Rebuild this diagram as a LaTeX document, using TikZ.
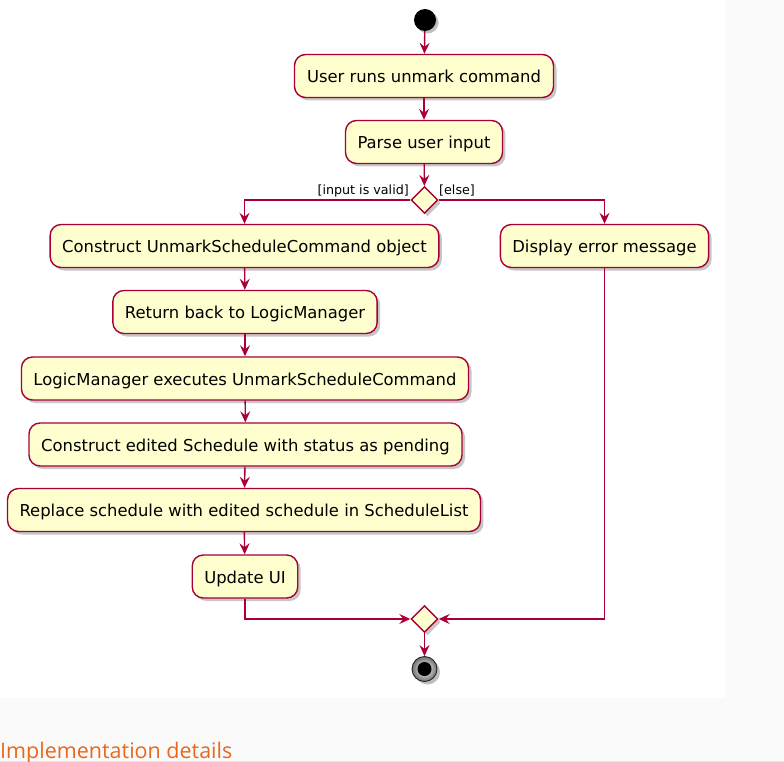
\documentclass[tikz,border=0pt]{standalone}
\usepackage{fontspec}
\usetikzlibrary{shapes.geometric,arrows.meta,shadows}
\newfontfamily\umlfont{DejaVu Sans}
\newfontfamily\docfont{Open Sans}
\definecolor{umlborder}{HTML}{A80036}
\definecolor{umlfill}{HTML}{FEFECE}
\definecolor{pagebg}{HTML}{FAFAFA}
\definecolor{headorange}{HTML}{E8681E}
\tikzset{
  act/.style={rectangle, rounded corners=11pt, draw=umlborder, fill=umlfill,
    line width=1.4pt, minimum height=43pt, inner xsep=12pt, inner ysep=0pt,
    text height=13.5pt, text depth=0.5pt,
    font=\umlfont\fontsize{16.4}{19}\selectfont, text=black,
    drop shadow={shadow xshift=3pt, shadow yshift=-3pt, fill=black, opacity=.22}},
  decis/.style={diamond, draw=umlborder, fill=umlfill, line width=1.4pt,
    minimum width=27pt, minimum height=27pt, inner sep=0pt,
    drop shadow={shadow xshift=3pt, shadow yshift=-3pt, fill=black, opacity=.22}},
  flow/.style={draw=umlborder, line width=1.4pt,
    -{Stealth[length=11pt,width=10pt,inset=4pt]}},
  guard/.style={font=\umlfont\fontsize{12.7}{15}\selectfont, text=black, inner sep=0pt}
}
\begin{document}
\begin{tikzpicture}[x=1pt,y=-1pt]
\useasboundingbox (0,0) rectangle (784,762);
\fill[pagebg] (0,0) rectangle (784,762);
\fill[white] (0,0) rectangle (726,698);
\fill[black!10] (0,760.5) rectangle (784,762);

% start
\fill[black!25] (427.5,22.5) circle (11);
\node[circle, fill=black, minimum size=22pt, inner sep=0pt] (start) at (425,20) {};

\node[act, minimum width=259pt] (b1) at (424,76) {User runs unmark command};
\node[act, minimum width=156pt] (b2) at (424,142) {Parse user input};
\node[decis] (d1) at (424.5,200) {};
\node[act, minimum width=387pt] (b3) at (244.5,246) {Construct UnmarkScheduleCommand object};
\node[act, minimum width=207pt] (err) at (604.5,246) {Display error message};
\node[act, minimum width=264pt] (b4) at (245,312) {Return back to LogicManager};
\node[act, minimum width=442pt] (b5) at (245,378.5) {LogicManager executes UnmarkScheduleCommand};
\node[act, minimum width=433pt] (b6) at (245.5,444.5) {Construct edited Schedule with status as pending};
\node[act, minimum width=466pt] (b7) at (244,510) {Replace schedule with edited schedule in ScheduleList};
\node[act, minimum width=100pt] (b8) at (245,576.5) {Update UI};
\node[decis] (d2) at (424.5,619) {};

% end
\fill[black!25] (427.5,672) circle (12.5);
\node[circle, draw=black!85, line width=0.9pt, inner color=white, outer color=black!55,
      minimum size=25pt, inner sep=0pt] (end) at (424.5,669) {};
\fill[black] (end.center) circle (7);

% guards
\node[guard, anchor=base east] (gvalid) at (409,195) {[input is valid]};
\node[guard, anchor=base west] (gelse) at (439,195) {[else]};

% flows
\draw[flow] (start) -- (b1);
\draw[flow] (b1) -- (b2);
\draw[flow] (b2) -- (d1);
\draw[flow] (d1.west) -| (b3.north);
\draw[flow] (d1.east) -| (err.north);
\draw[flow] (b3) -- (b4);
\draw[flow] (b4) -- (b5);
\draw[flow] (b5) -- (b6);
\draw[flow] (b6) -- (b7);
\draw[flow] (b7) -- (b8);
\draw[flow] (b8.south) |- (d2.west);
\draw[flow] (err.south) |- (d2.east);
\draw[flow] (d2) -- (end);

% heading below
\node[anchor=base west, inner sep=0pt, text=headorange,
      font=\docfont\fontsize{21.5}{25}\selectfont] (impl) at (0,758.5) {Implementation details};
\end{tikzpicture}
\end{document}
